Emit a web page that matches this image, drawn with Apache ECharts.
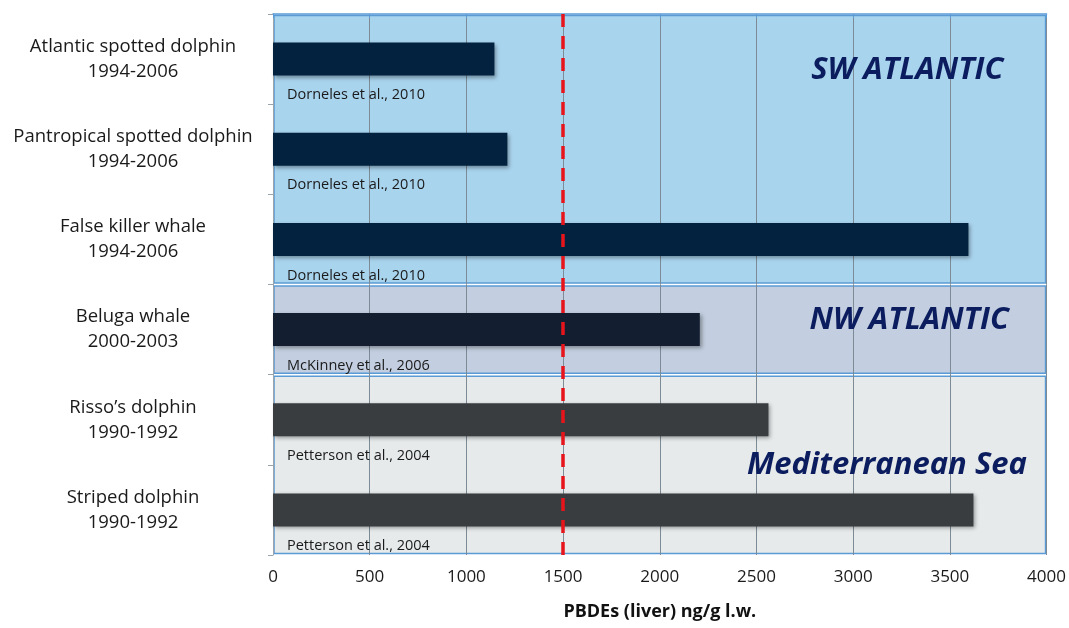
<!DOCTYPE html>
<html lang="en">
<head>
    <meta charset="UTF-8">
    <title>PBDEs in liver</title>
    <script src="https://cdn.jsdelivr.net/npm/echarts@6/dist/echarts.min.js"></script>
    <style>
        html, body { margin: 0; padding: 0; background: #fff; }
        #paint { width: 1069px; height: 628px; }
    </style>
</head>
<body>
<div id="paint"></div>

<script type="text/javascript">
    // data
    var species = ['Atlantic spotted dolphin', 'Pantropical spotted dolphin', 'False killer whale',
                   'Beluga whale', 'Risso\u2019s dolphin', 'Striped dolphin'];
    var periods = ['1994-2006', '1994-2006', '1994-2006', '2000-2003', '1990-1992', '1990-1992'];
    var pbde = [1145, 1212, 3596, 2207, 2562, 3622];
    var refs = ['Dorneles et al., 2010', 'Dorneles et al., 2010', 'Dorneles et al., 2010',
                'McKinney et al., 2006', 'Petterson et al., 2004', 'Petterson et al., 2004'];
    var barColors = ['#03223f', '#03223f', '#03223f', '#131f30', '#3a3d3f', '#3a3d3f'];

    var regionNames = ['SW ATLANTIC', 'NW ATLANTIC', 'Mediterranean Sea'];
    var regionFrom = [0, 3, 4];   // in category bands
    var regionTo = [3, 4, 6];
    var regionFill = ['#a9d4ee', '#c3cfe0', '#e6eaeb'];
    var threshold = 1500;

    var categories = species.map(function (s, i) { return s + '\n' + periods[i]; });

    var myChart = echarts.init(document.getElementById('paint'));

    var barData = pbde.map(function (v, i) {
        return { value: v, itemStyle: { color: barColors[i] } };
    });
    var regionData = regionNames.map(function (n, i) {
        return [regionFrom[i], regionTo[i], n];
    });
    // where the region titles sit: [x value, band position]
    var titleAt = [[3280, 0.62], [3290, 3.4], [3175, 5.0]];

    var option = {
        animation: false,
        grid: { left: 273, right: 22, top: 14, bottom: 73 },
        xAxis: {
            type: 'value',
            min: 0, max: 4000, interval: 500,
            name: 'PBDEs (liver) ng/g l.w.',
            nameLocation: 'middle',
            nameGap: 48,
            nameTextStyle: { fontFamily: 'Open Sans', fontWeight: 'bold', fontSize: 18, color: '#111' },
            axisLine: { show: true, lineStyle: { color: '#5b9bd5', width: 1.5 } },
            axisTick: { show: true, length: 4, lineStyle: { color: '#5b9bd5' } },
            axisLabel: {
                fontFamily: 'Open Sans', fontSize: 17, color: '#1a1a1a', margin: 14,
                formatter: function (v) { return String(v); }
            },
            splitLine: { show: true, lineStyle: { color: '#7c8b95', width: 1 } }
        },
        yAxis: [{
            type: 'category',
            data: categories,
            inverse: true,
            axisLine: { show: true, lineStyle: { color: '#9aa4ac' } },
            axisTick: { show: true, length: 5, lineStyle: { color: '#9aa4ac' } },
            axisLabel: {
                fontFamily: 'Open Sans', fontSize: 18.5, color: '#1a1a1a',
                align: 'center', margin: 140, lineHeight: 25
            },
            splitLine: { show: false }
        }, {
            type: 'value', min: 0, max: 6, inverse: true, show: false
        }],
        series: [{
            // region boxes, under the grid lines
            type: 'custom',
            yAxisIndex: 1,
            z: -1,
            silent: true,
            data: regionData,
            renderItem: function (params, api) {
                var i = params.dataIndex;
                var p0 = api.coord([0, api.value(0)]);
                var p1 = api.coord([4000, api.value(1)]);
                return {
                    type: 'rect',
                    shape: { x: p0[0] + 1, y: p0[1] + 1.5, width: p1[0] - p0[0] - 2, height: p1[1] - p0[1] - 3 },
                    style: { fill: regionFill[i], stroke: '#5b9bd5', lineWidth: 1.5 }
                };
            }
        }, {
            type: 'bar',
            data: barData,
            barWidth: 33,
            z: 3,
            itemStyle: {
                shadowColor: 'rgba(0,0,0,0.35)', shadowBlur: 4, shadowOffsetX: 2, shadowOffsetY: 2
            },
            label: {
                show: true,
                position: [14, 45],
                fontFamily: 'Open Sans', fontSize: 14.5, color: '#1a1a1a',
                formatter: function (p) { return refs[p.dataIndex]; }
            },
            markLine: {
                silent: true,
                symbol: ['none', 'none'],
                label: { show: false },
                lineStyle: { color: '#e8141b', type: [13, 9], width: 3.5 },
                data: [{ xAxis: threshold }]
            }
        }, {
            // region titles, on top of the grid lines
            type: 'custom',
            yAxisIndex: 1,
            z: 5,
            silent: true,
            data: regionData,
            renderItem: function (params, api) {
                var i = params.dataIndex;
                var p = api.coord(titleAt[i]);
                return {
                    type: 'text',
                    x: p[0], y: p[1],
                    style: {
                        text: regionNames[i],
                        fill: '#0b1d5e',
                        font: 'italic bold 31px "Open Sans"',
                        align: 'center', verticalAlign: 'middle'
                    }
                };
            }
        }]
    };
    myChart.setOption(option);
</script>
</body>
</html>
